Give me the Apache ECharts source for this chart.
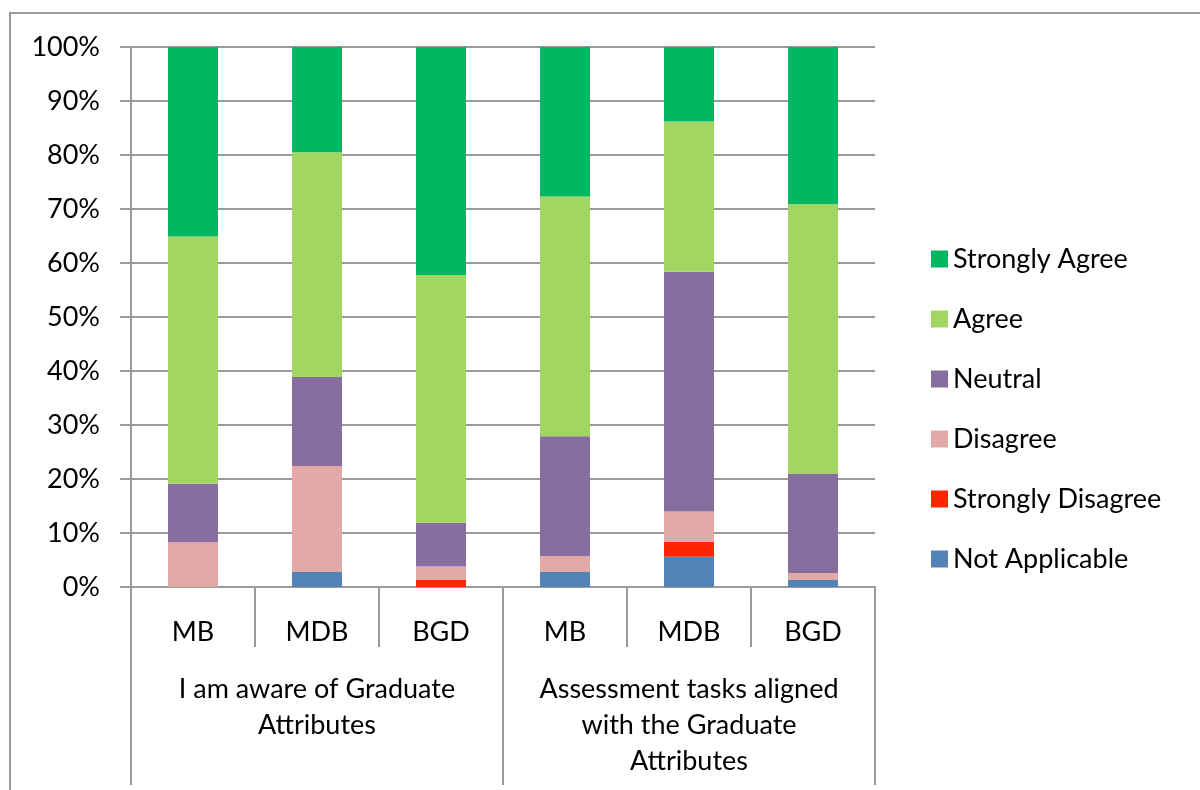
<!DOCTYPE html>
<html>
<head>
<meta charset="utf-8">
<script src="https://cdn.jsdelivr.net/npm/echarts@6/dist/echarts.min.js"></script>
<style>html,body{margin:0;padding:0;background:#fff;}#c{width:1200px;height:790px;}</style>
</head>
<body>
<div id="c"></div>
<script>
const subLabels = ['MB', 'MDB', 'BGD', 'MB', 'MDB', 'BGD'];
const groupLabels = ['I am aware of Graduate\nAttributes', 'Assessment tasks aligned\nwith the Graduate\nAttributes'];
const seriesNames = ['Not Applicable', 'Strongly Disagree', 'Disagree', 'Neutral', 'Agree', 'Strongly Agree'];
const notApplicable = [0, 2.8, 0, 2.8, 5.6, 1.3];
const stronglyDisagree = [0, 0, 1.3, 0, 2.8, 0];
const disagree = [8.3, 19.6, 2.5, 2.9, 5.6, 1.3];
const neutral = [10.8, 16.5, 8.1, 22.2, 44.4, 18.4];
const agree = [45.8, 41.6, 45.9, 44.4, 27.8, 49.9];
const stronglyAgree = [35.1, 19.5, 42.2, 27.7, 13.8, 29.1];
const colors = ['#5383B6', '#FF2600', '#E2A9A7', '#866E9F', '#A2D662', '#00B862'];
const values = [notApplicable, stronglyDisagree, disagree, neutral, agree, stronglyAgree];

const FONT = 'Lato';
const chart = echarts.init(document.getElementById('c'));
chart.setOption({
  backgroundColor: '#fff',
  animation: false,
  textStyle: { fontFamily: FONT },
  graphic: [{
    type: 'rect', shape: { x: 10, y: 13, width: 1200, height: 800 },
    style: { fill: 'none', stroke: '#9a9a9a', lineWidth: 2 }, silent: true, z: -1
  }],
  grid: { left: 131, right: 325, top: 47, bottom: 203 },
  legend: {
    orient: 'vertical', left: 926, top: 239,
    data: seriesNames.slice().reverse(),
    icon: 'rect', itemWidth: 17, itemHeight: 17, itemGap: 30,
    textStyle: { fontFamily: FONT, fontSize: 27, color: '#000', lineHeight: 30 }
  },
  xAxis: [{
    type: 'category', data: subLabels, position: 'bottom',
    axisLine: { show: true, lineStyle: { color: '#9a9a9a', width: 2 } },
    axisTick: { show: true, alignWithLabel: false, length: 60, lineStyle: { color: '#9a9a9a', width: 2 } },
    axisLabel: { margin: 31, fontFamily: FONT, fontSize: 27, color: '#000', lineHeight: 28, interval: 0 }
  }, {
    type: 'category', data: groupLabels, position: 'bottom',
    axisLine: { show: true, lineStyle: { color: '#9a9a9a', width: 2 } },
    axisTick: { show: true, alignWithLabel: false, length: 198, lineStyle: { color: '#9a9a9a', width: 2 } },
    axisLabel: { margin: 84, fontFamily: FONT, fontSize: 27, color: '#000', lineHeight: 36, interval: 0 }
  }],
  yAxis: {
    type: 'value', min: 0, max: 100, interval: 10,
    axisLine: { show: true, lineStyle: { color: '#9a9a9a', width: 2 } },
    axisTick: { show: true, length: 11, lineStyle: { color: '#9a9a9a', width: 2 } },
    splitLine: { lineStyle: { color: '#9a9a9a', width: 2 } },
    axisLabel: { formatter: '{value}%', margin: 31, fontFamily: FONT, fontSize: 27, color: '#000' }
  },
  series: seriesNames.map((name, i) => ({
    name: name, type: 'bar', stack: 'total', xAxisIndex: 0,
    barWidth: 50, data: values[i], itemStyle: { color: colors[i] }
  }))
});
</script>
</body>
</html>
